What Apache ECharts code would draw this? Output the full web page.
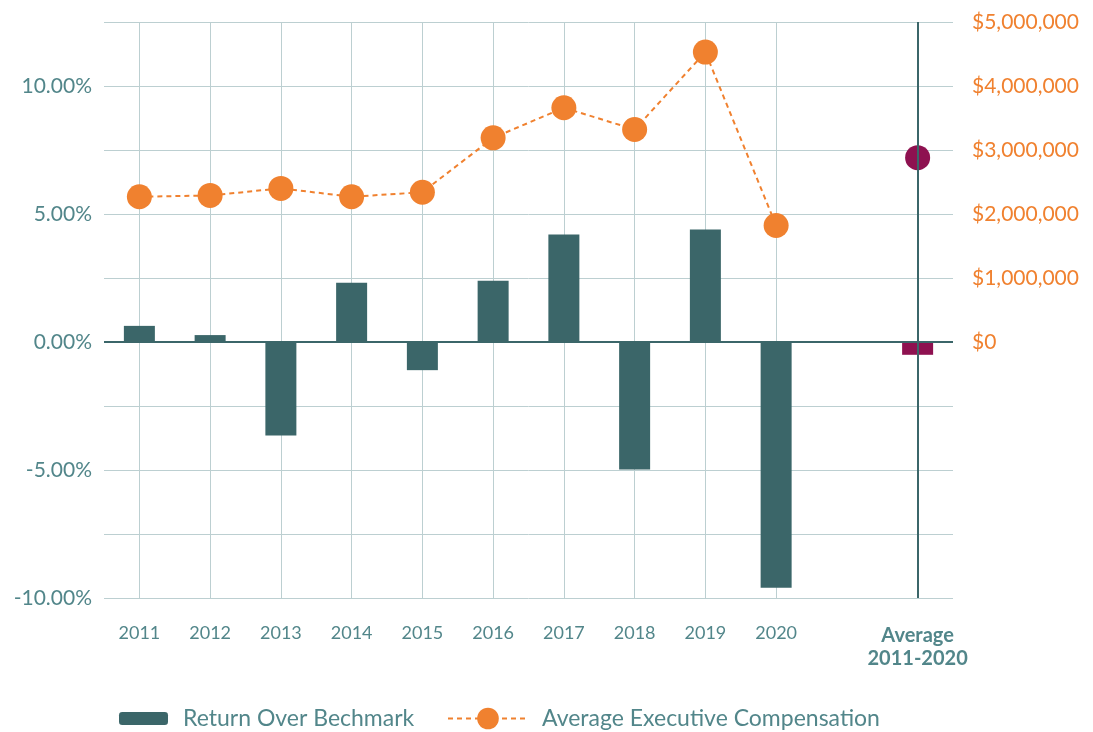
<!DOCTYPE html>
<html>
<head>
<meta charset="utf-8">
<script src="https://cdn.jsdelivr.net/npm/echarts@6/dist/echarts.min.js"></script>
<style>
  html, body { margin: 0; padding: 0; background: #fff; }
  #chart { width: 1093px; height: 732px; }
</style>
</head>
<body>
<div id="chart"></div>
<script>
var categories = ['2011', '2012', '2013', '2014', '2015', '2016', '2017', '2018', '2019', '2020', '', 'Average 2011-2020'];
// return over benchmark, percent
var returnOverBenchmark = [0.63, 0.27, -3.65, 2.31, -1.1, 2.39, 4.2, -4.98, 4.39, -9.6, null, -0.5];
// average executive compensation, dollars
var avgCompensation = [2270000, 2290000, 2400000, 2270000, 2340000, 3190000, 3660000, 3320000, 4530000, 1820000, null, 2880000];
var leftTicks = { min: -10, max: 12.5, step: 2.5 };
var rightTicks = { min: -4000000, max: 5000000, step: 1000000 };

var teal = '#3b6669';
var orange = '#f0812f';
var purple = '#8e1150';
var grid = '#bccfd1';
var labelColor = '#52868a';
var font = 'Lato';
var avgIndex = categories.length - 1;
var blankIndex = 10;

var barData = returnOverBenchmark.map(function (v, i) {
    if (v === null) return '-';
    if (i === avgIndex) return { value: v, itemStyle: { color: purple } };
    return v;
});
var lineData = avgCompensation.map(function (v, i) {
    if (v === null) return '-';
    if (i === avgIndex) return { value: v, itemStyle: { color: purple } };
    return v;
});

var myChart = echarts.init(document.getElementById('chart'));

option = {
    animation: false,
    textStyle: { fontFamily: font },
    grid: { left: 104, right: 140, top: 22, bottom: 134 },
    legend: [{
        data: ['Return Over Bechmark'],
        left: 119, top: 707, padding: 0,
        itemWidth: 49, itemHeight: 13,
        textStyle: { fontSize: 23, color: labelColor, fontFamily: font, padding: [0, 0, 0, 10] }
    }, {
        data: ['Average Executive Compensation'],
        left: 447, top: 707, padding: 0,
        itemWidth: 80, itemHeight: 27,
        textStyle: { fontSize: 23, color: labelColor, fontFamily: font, padding: [0, 0, 0, 9] }
    }],
    xAxis: {
        type: 'category',
        data: categories,
        axisLine: { show: false },
        axisTick: {
            show: true, alignWithLabel: true, length: 5,
            lineStyle: { color: grid },
            interval: function (i) { return i < blankIndex; }
        },
        splitLine: {
            show: true, alignWithLabel: true,
            lineStyle: { color: grid, width: 1 },
            interval: function (i) { return i < blankIndex; }
        },
        axisLabel: {
            interval: 0,
            margin: 26,
            fontSize: 18,
            color: labelColor,
            fontFamily: font,
            formatter: function (v) {
                if (v.indexOf('Average') === 0) return '{b|Average}\n{b|2011-2020}';
                return v;
            },
            rich: {
                b: { fontWeight: 'bold', fontSize: 20, color: labelColor, fontFamily: font, lineHeight: 23 }
            }
        }
    },
    yAxis: [{
        type: 'value',
        min: leftTicks.min, max: leftTicks.max, interval: leftTicks.step,
        axisLine: { show: false }, axisTick: { show: false },
        splitLine: { show: true, lineStyle: { color: grid, width: 1 } },
        axisLabel: {
            margin: 12, fontSize: 21, color: labelColor, fontFamily: font,
            formatter: function (v) {
                return (Math.abs(v % 5) < 1e-9) ? v.toFixed(2) + '%' : '';
            }
        }
    }, {
        type: 'value',
        min: rightTicks.min, max: rightTicks.max, interval: rightTicks.step,
        axisLine: { show: false }, axisTick: { show: false },
        splitLine: { show: false },
        axisLabel: {
            margin: 19, fontSize: 21, color: orange, fontFamily: font,
            formatter: function (v) {
                if (v < 0) return '';
                return '$' + v.toLocaleString('en-US');
            }
        }
    }],
    series: [{
        name: 'Return Over Bechmark',
        type: 'bar',
        yAxisIndex: 0,
        barWidth: 31,
        itemStyle: { color: teal },
        data: barData,
        markLine: {
            silent: true,
            symbol: 'none',
            label: { show: false },
            data: [
                { yAxis: 0, lineStyle: { color: teal, width: 2, type: 'solid' } },
                { xAxis: avgIndex, lineStyle: { color: teal, width: 2, type: 'solid' } }
            ]
        },
        z: 2
    }, {
        name: 'Average Executive Compensation',
        type: 'line',
        yAxisIndex: 1,
        symbol: 'circle',
        symbolSize: 25,
        lineStyle: { color: orange, width: 2, type: [5, 4] },
        itemStyle: { color: orange },
        data: lineData,
        z: 4
    }]
};

myChart.setOption(option);
</script>
</body>
</html>
